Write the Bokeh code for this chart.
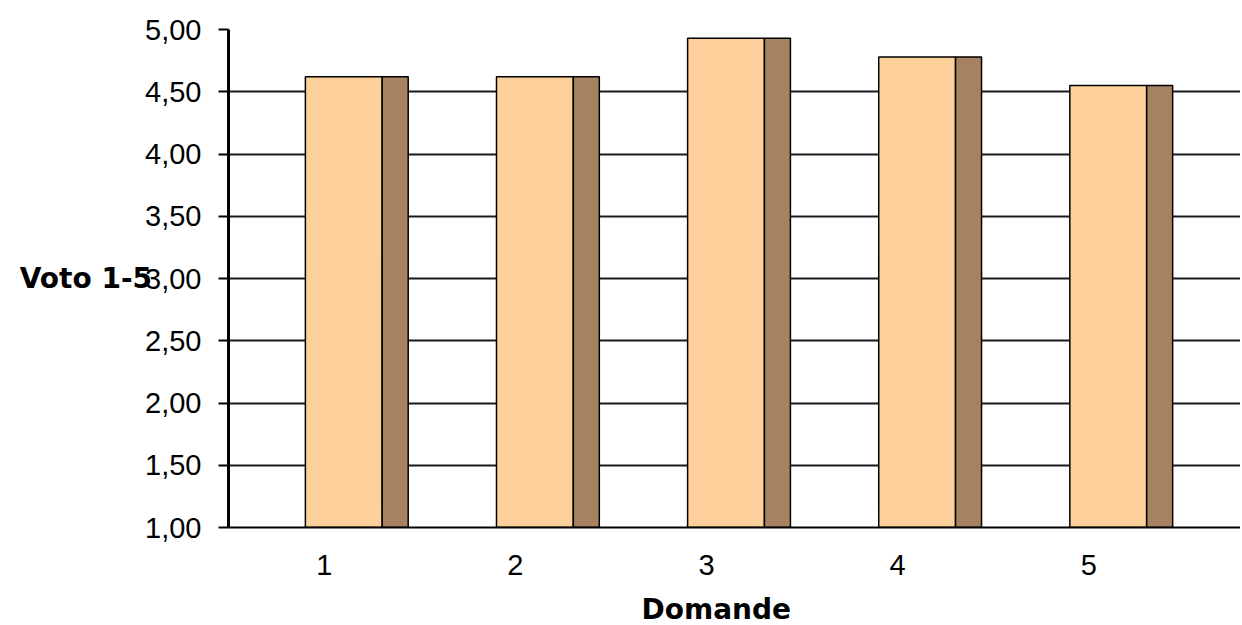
from bokeh.plotting import figure
from bokeh.models import Range1d, FixedTicker, CustomJSTickFormatter, ColumnDataSource, Title
from bokeh.transform import dodge
from bokeh.embed import file_html
from bokeh.resources import INLINE

# data
questions = [1, 2, 3, 4, 5]
series_a = [4.62, 4.62, 4.93, 4.78, 4.55]
series_b = [4.62, 4.62, 4.93, 4.78, 4.55]
y_ticks = [1.0, 1.5, 2.0, 2.5, 3.0, 3.5, 4.0, 4.5, 5.0]

src = ColumnDataSource(dict(q=questions, a=series_a, b=series_b))

p = figure(width=1240, height=625, output_backend="svg", toolbar_location=None,
           x_range=Range1d(0.4987, 5.794), y_range=Range1d(1.0, 5.0),
           min_border_left=228, min_border_right=0, min_border_top=29, min_border_bottom=0)
p.outline_line_color = None
p.background_fill_color = "white"

p.vbar(x=dodge("q", 0.102, range=p.x_range), top="a", bottom=1.0, width=0.402, source=src,
       fill_color="#FDD09B", line_color="black", line_width=1.5)
p.vbar(x=dodge("q", 0.371, range=p.x_range), top="b", bottom=1.0, width=0.136, source=src,
       fill_color="#A68260", line_color="black", line_width=1.5)

p.xgrid.visible = False
p.ygrid.ticker = FixedTicker(ticks=y_ticks)
p.ygrid.grid_line_color = "#1a1a1a"
p.ygrid.grid_line_width = 2

tick_font = "Liberation Sans"
lab_font = "DejaVu Sans"

ya = p.yaxis[0]
ya.ticker = FixedTicker(ticks=y_ticks)
ya.formatter = CustomJSTickFormatter(code="return tick.toFixed(2).replace('.', ',');")
ya.axis_line_color = "black"
ya.axis_line_width = 3
ya.major_tick_out = 10
ya.major_tick_in = 0
ya.major_tick_line_color = "black"
ya.major_tick_line_width = 2
ya.minor_tick_line_color = None
ya.major_label_standoff = 17
ya.major_label_text_font = tick_font
ya.major_label_text_font_size = "29px"
ya.major_label_text_color = "black"
ya.axis_label = "Voto 1-5"
ya.axis_label_orientation = "horizontal"
ya.axis_label_standoff = -10
ya.axis_label_text_font = lab_font
ya.axis_label_text_font_style = "bold"
ya.axis_label_text_font_size = "28px"
ya.axis_label_text_color = "black"

xa = p.xaxis[0]
xa.ticker = FixedTicker(ticks=questions)
xa.axis_line_color = "black"
xa.axis_line_width = 2
xa.major_tick_out = 0
xa.major_tick_in = 0
xa.major_tick_line_color = None
xa.minor_tick_line_color = None
xa.major_label_standoff = 27
xa.major_label_text_font = tick_font
xa.major_label_text_font_size = "29px"
xa.major_label_text_color = "black"
# blank spacer label to push the title down
xa.axis_label = " "
xa.axis_label_text_font_size = "10px"
xa.axis_label_standoff = -1

p.add_layout(Title(text="Domande", align="left", offset=413, standoff=0,
                   text_font=lab_font, text_font_style="bold", text_font_size="28px",
                   text_color="black"), "below")

open("out.html", "w").write(file_html(p, INLINE))
